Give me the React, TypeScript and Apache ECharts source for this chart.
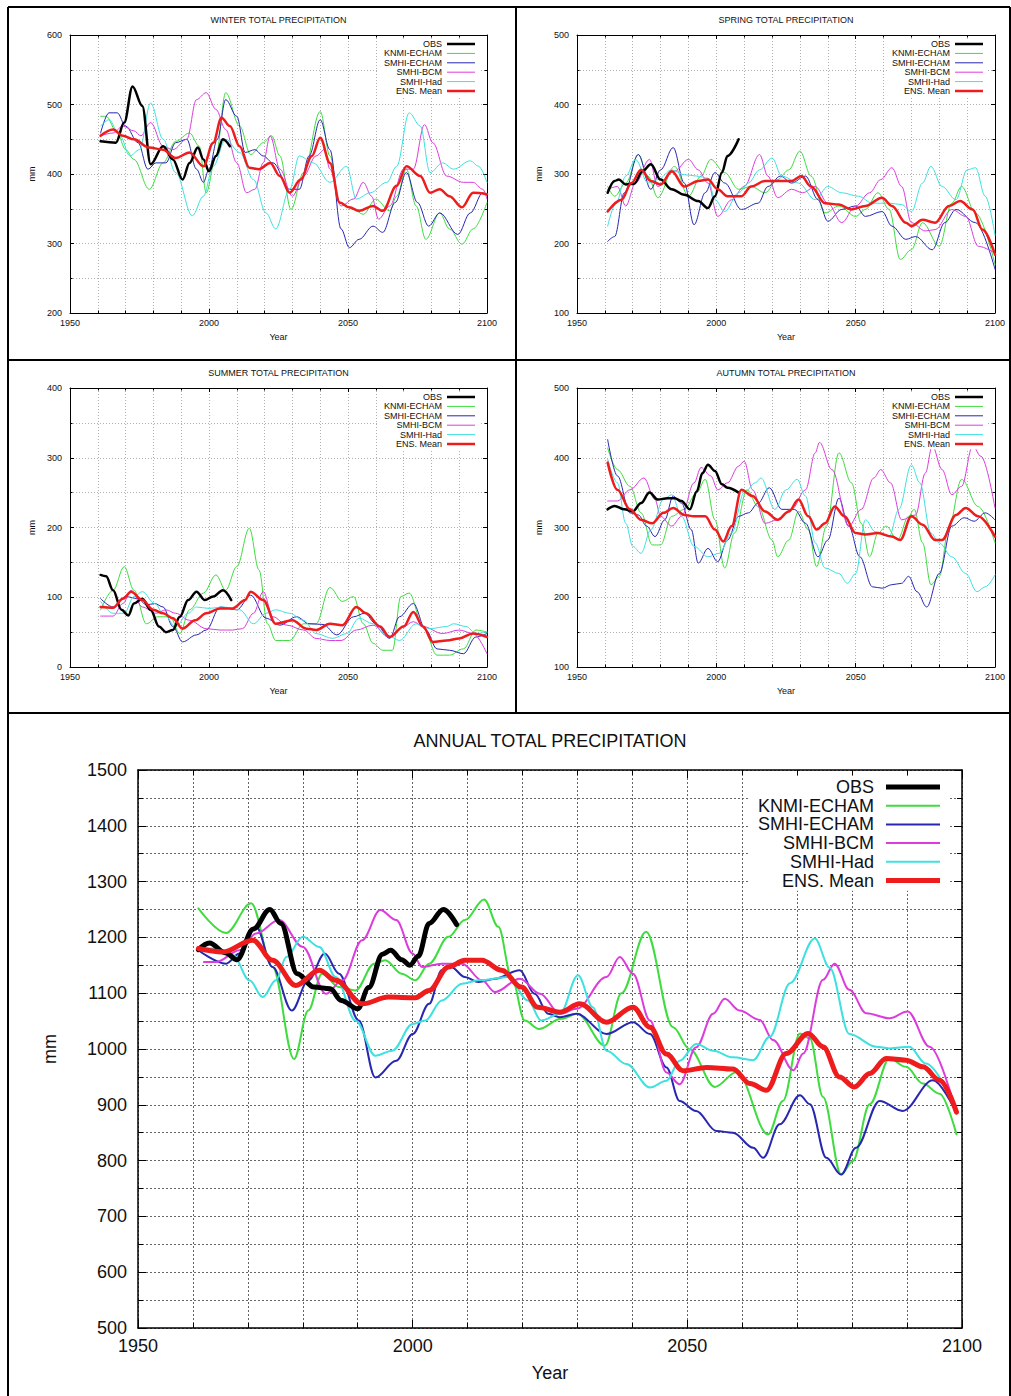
import React, { useEffect, useRef } from 'react';
import * as echarts from 'echarts';

const FONT = '"Liberation Sans", Arial, Helvetica, sans-serif';
const SERIES_NAMES = ['OBS', 'KNMI-ECHAM', 'SMHI-ECHAM', 'SMHI-BCM', 'SMHI-Had', 'ENS. Mean'];
const SERIES_COLORS = ['#000000', '#3fdc3f', '#2727b0', '#dc3cdc', '#3fe0e0', '#ee1c1c'];
const X_TICKS = [1950, 2000, 2050, 2100];

// ---------------- WINTER ----------------
const winterOBS = [[1961,447],[1966.5,445],[1969.5,474],[1972.5,526],[1976,498],[1979,414],[1983.5,440],[1987,421],[1990.5,392],[1993,416],[1996,438],[1998,421],[2000,404],[2002.5,426],[2005,450],[2007.5,440]];
const winterKNMI = [[1961,483],[1963,483],[1967,459],[1970,435],[1973,421],[1978.5,378],[1983.5,416],[1988,447],[1993,459],[1996.5,440],[1999,373],[2002.5,426],[2006,517],[2011,469],[2015,428],[2019.5,445],[2022.5,455],[2025.5,426],[2029.5,349],[2034,402],[2040,490],[2043.5,426],[2047,359],[2052,349],[2055.5,342],[2060,364],[2065,347],[2067.5,368],[2071,407],[2074.5,354],[2078,306],[2083,344],[2086.5,321],[2091,299],[2095,321],[2100,359]];
const winterSMHIE = [[1961,459],[1964,488],[1967,488],[1970,469],[1974.5,445],[1978,407],[1981,416],[1984.5,416],[1988,445],[1992,450],[1995.5,407],[1998,388],[2000,407],[2003,450],[2006,507],[2010,483],[2013,431],[2016.5,435],[2019.5,426],[2023,416],[2029,378],[2032.5,378],[2036,426],[2040,478],[2043.5,435],[2047.5,321],[2050.5,294],[2054,306],[2059,325],[2062.5,316],[2067,359],[2071,402],[2075,359],[2079,325],[2083,344],[2089.5,313],[2094,344],[2098.5,373],[2100,369]];
const winterBCM = [[1961,455],[1965.5,459],[1969,469],[1973,462],[1975.5,455],[1979,474],[1983.5,440],[1987,435],[1992,450],[1995.5,507],[1999,517],[2002.5,493],[2006,464],[2010,416],[2013.5,373],[2016.5,378],[2019.5,416],[2022,455],[2025.5,407],[2030,368],[2034,397],[2038.5,426],[2041.5,435],[2043.5,407],[2047.5,354],[2052,364],[2055.5,388],[2058.5,368],[2061,335],[2065,354],[2070,407],[2073.5,407],[2077.5,471],[2080.5,445],[2085.5,397],[2091.5,388],[2095,388],[2098.5,378],[2100,364]];
const winterHad = [[1961,469],[1964,478],[1968,455],[1971.5,426],[1975,435],[1979,502],[1983.5,450],[1988,402],[1994,340],[1998,368],[2001.5,411],[2006,450],[2011,431],[2016,392],[2020.5,344],[2024,321],[2029,378],[2032.5,426],[2037.5,416],[2043.5,388],[2049.5,411],[2053,364],[2058,373],[2064,388],[2067.5,411],[2072,488],[2076,469],[2079.5,402],[2084,416],[2088,407],[2094,419],[2097,411],[2100,388]];
const winterENS = [[1961,455],[1965.5,464],[1969,455],[1973,450],[1978.5,438],[1983.5,435],[1988,423],[1993,431],[1998,411],[2001.5,445],[2004.5,481],[2007.5,469],[2011,440],[2014.5,409],[2018,407],[2022,416],[2025.5,397],[2029,373],[2033,392],[2037,426],[2040,452],[2043.5,416],[2047,359],[2050.5,352],[2054,347],[2059,354],[2062.5,347],[2067.5,383],[2071,411],[2076,397],[2079.5,373],[2083,378],[2086.5,368],[2091,352],[2095,373],[2100,371]];

// ---------------- SPRING ----------------
const springOBS = [[1961,273],[1963.5,290],[1965,292],[1967.5,285],[1970.5,286],[1973.5,304],[1976.5,314],[1980,292],[1984,278],[1988.5,270],[1993.5,261],[1997,251],[1999.5,268],[2002,302],[2004,326],[2008,350]];
const springKNMI = [[1961,282],[1963.5,268],[1967.5,287],[1972,328],[1975.5,297],[1979,266],[1985,311],[1990,268],[1994.5,297],[1998,321],[2003,302],[2008,278],[2012.5,282],[2017.5,273],[2022,292],[2026,306],[2030,333],[2034,297],[2039,244],[2044,254],[2050,239],[2053.5,249],[2058,273],[2062,249],[2066,177],[2070,191],[2074,230],[2080,196],[2084.5,258],[2088,282],[2093,244],[2100,170]];
const springSMHIE = [[1961,203],[1963.5,210],[1967,273],[1972,328],[1976.5,278],[1980,306],[1984.5,338],[1988.5,287],[1992,227],[1996,273],[1999.5,302],[2003,287],[2009,249],[2015,258],[2018.5,282],[2023,297],[2027,287],[2032,297],[2036.5,263],[2040,232],[2045,249],[2050,254],[2053.5,239],[2059.5,246],[2063,225],[2068,206],[2071.5,210],[2077.5,191],[2082,230],[2086,249],[2093,230],[2100,163]];
const springBCM = [[1961,278],[1964.5,282],[1967.5,254],[1971,287],[1976,321],[1979,282],[1985,304],[1990,321],[1993.5,306],[1997,287],[2000.5,239],[2005.5,263],[2010,282],[2015.5,328],[2018.5,297],[2022,266],[2027,278],[2031,273],[2035.5,282],[2040,258],[2045,230],[2050,254],[2055,273],[2059,292],[2063,309],[2066.5,282],[2070,230],[2075,218],[2078.5,220],[2084.5,249],[2089.5,239],[2094,196],[2100,186]];
const springHad = [[1961,225],[1964,258],[1967.5,297],[1971,321],[1975.5,287],[1979,292],[1984,306],[1988.5,299],[1993,297],[1997,294],[1999.5,263],[2003,246],[2008,273],[2011.5,287],[2015.5,306],[2020,323],[2023.5,297],[2029.5,287],[2035.5,263],[2040,282],[2045,273],[2051,268],[2056,258],[2062,258],[2066.5,256],[2070,246],[2074,287],[2077,311],[2081,282],[2086,263],[2090,306],[2093,309],[2096.5,268],[2100,212]];
const springENS = [[1961,246],[1966,263],[1969.5,287],[1973,306],[1976.5,290],[1980,285],[1984,304],[1988.5,282],[1993.5,290],[1997,292],[2000.5,278],[2004,268],[2009,268],[2012.5,282],[2017.5,290],[2022,290],[2027,290],[2030.5,297],[2034,282],[2039,258],[2044,256],[2048.5,249],[2053.5,254],[2059.5,266],[2063,254],[2068,230],[2070,225],[2074,234],[2078.5,230],[2083.5,254],[2087.5,261],[2092,249],[2095.5,220],[2100,184]];

// ---------------- SUMMER ----------------
const summerOBS = [[1961,132],[1963,130],[1965.5,110],[1968.5,82],[1971,74],[1973,91],[1976,98],[1979,82],[1982,58],[1984.5,50],[1987,53],[1989.5,72],[1992.5,96],[1995.5,108],[1998.5,96],[2001.5,101],[2005,110],[2008,96]];
const summerKNMI = [[1961,82],[1965.5,110],[1969.5,144],[1973,110],[1977.5,62],[1981.5,72],[1986,72],[1989.5,48],[1993,82],[1998,106],[2002.5,132],[2006,110],[2010,144],[2014.5,199],[2018,139],[2021,62],[2024,38],[2029,38],[2034,62],[2038.5,62],[2043.5,114],[2048,94],[2052,101],[2055.5,62],[2059,34],[2062.5,24],[2066,24],[2069,101],[2072,106],[2077,58],[2082,17],[2086.5,17],[2091.5,26],[2096,53],[2100,50]];
const summerSMHIE = [[1961,98],[1965.5,86],[1970,101],[1974.5,98],[1977.5,89],[1980.5,91],[1983.5,86],[1987,58],[1990.5,36],[1995.5,46],[1999,53],[2004,86],[2010,82],[2015,103],[2020.5,70],[2025.5,60],[2031.5,72],[2036,62],[2041,61],[2046,46],[2052,72],[2056,77],[2060,62],[2065,41],[2068.5,72],[2073.5,91],[2078,53],[2082,26],[2086.5,24],[2091.5,19],[2096,43],[2100,48]];
const summerBCM = [[1961,73],[1965.5,73],[1969,91],[1972,110],[1976,86],[1981,77],[1984.5,82],[1988,77],[1993,67],[1999,55],[2004,53],[2008.5,53],[2012,55],[2016,77],[2019.5,108],[2023,72],[2028,60],[2034,53],[2038.5,41],[2043.5,38],[2047.5,38],[2053,53],[2059,60],[2064.5,43],[2070,58],[2073.5,65],[2077,58],[2084,48],[2090,53],[2095,48],[2100,19]];
const summerHad = [[1961,94],[1965.5,77],[1969.5,77],[1973,101],[1976,108],[1980.5,91],[1983.5,77],[1988,58],[1992.5,77],[1995.5,86],[2000,84],[2005,86],[2011,82],[2016,62],[2020.5,77],[2024,82],[2029,77],[2034,67],[2038.5,48],[2044.5,41],[2049.5,48],[2054,70],[2059,62],[2064,46],[2068.5,38],[2074.5,62],[2079.5,55],[2085.5,58],[2088,62],[2092.5,58],[2096,48],[2100,50]];
const summerENS = [[1961,86],[1965.5,85],[1969,98],[1972,108],[1976,96],[1980,82],[1983.5,77],[1987,70],[1990.5,55],[1995,67],[1999,77],[2004,84],[2008.5,84],[2013,96],[2015,108],[2019.5,96],[2024,62],[2030,67],[2035,55],[2038.5,53],[2043.5,62],[2048,60],[2053,86],[2056.5,77],[2061.5,58],[2065,43],[2070,58],[2073.5,79],[2077,58],[2080.5,36],[2085.5,38],[2090,41],[2095,48],[2100,43]];

// ---------------- AUTUMN ----------------
const autumnOBS = [[1961,326],[1963.5,331],[1967,326],[1970,323],[1973,335],[1976,350],[1979,340],[1982.5,342],[1985,342],[1987.5,338],[1990.5,326],[1993,352],[1995,378],[1997,390],[1999.5,381],[2002,362],[2004,357],[2008,350]];
const autumnKNMI = [[1961,414],[1964.5,383],[1969,359],[1973,321],[1977,275],[1980,275],[1984,316],[1988.5,326],[1993,350],[1996,369],[1999.5,311],[2003,242],[2006.5,292],[2011,354],[2015,330],[2020,282],[2022,258],[2026,282],[2029.5,323],[2033,297],[2036,244],[2039.5,302],[2044,407],[2048.5,364],[2052,306],[2055,258],[2058,292],[2061,302],[2065,282],[2069,316],[2071,326],[2074,278],[2077,218],[2080,230],[2083.5,302],[2088,369],[2094,330],[2100,278]];
const autumnSMHIE = [[1961,426],[1964.5,374],[1969,321],[1972,318],[1975,302],[1978,287],[1981.5,311],[1984.5,345],[1987.5,335],[1991,297],[1993.5,249],[1997,270],[2000.5,251],[2004,282],[2008,316],[2011.5,321],[2015,335],[2019,357],[2023.5,326],[2028,326],[2032,306],[2036.5,258],[2040,282],[2044,342],[2047.5,302],[2051.5,258],[2056,215],[2059.5,213],[2063,218],[2066.5,220],[2069,230],[2072,208],[2075.5,186],[2080,234],[2084.5,302],[2089,314],[2092.5,309],[2096.5,321],[2100,311]];
const autumnBCM = [[1961,338],[1964.5,338],[1969,354],[1974,371],[1978,340],[1980,316],[1984,302],[1987.5,316],[1992,364],[1994.5,386],[1998,374],[2000.5,354],[2004,364],[2008,388],[2010,395],[2013,354],[2017.5,306],[2022,311],[2027,326],[2032,354],[2035.5,407],[2037,422],[2041.5,383],[2047.5,302],[2052,326],[2056.5,371],[2059,383],[2062.5,364],[2066.5,311],[2071.5,318],[2075,378],[2077.5,417],[2081,383],[2084.5,347],[2088,359],[2092,417],[2095,402],[2100,328]];
const autumnHad = [[1961,398],[1964.5,364],[1967.5,306],[1970,273],[1973,263],[1976.5,297],[1981,340],[1984,347],[1987.5,316],[1992,273],[1997,258],[2001,263],[2005.5,292],[2010,350],[2014,364],[2016,371],[2021,326],[2025,354],[2029,369],[2032,345],[2035.5,278],[2039,242],[2044,234],[2047,220],[2050,234],[2053.5,311],[2057,294],[2062,287],[2065.5,326],[2070,390],[2073,364],[2077,292],[2080,278],[2084.5,258],[2089.5,234],[2093.5,208],[2096.5,215],[2100,232]];
const autumnENS = [[1961,393],[1964.5,354],[1969,326],[1973,311],[1977,306],[1981,321],[1984.5,328],[1988.5,318],[1992,316],[1996,316],[1999.5,297],[2002.5,280],[2005.5,302],[2009,354],[2013,345],[2017.5,323],[2022,311],[2026,323],[2029.5,340],[2033,316],[2036,297],[2039,306],[2042.5,330],[2046,316],[2050,292],[2053.5,290],[2058,292],[2063,287],[2066,282],[2070,316],[2074,304],[2078.5,282],[2081,282],[2086,318],[2089.5,328],[2094,316],[2100,287]];

// ---------------- ANNUAL ----------------
const annualOBS = [[1961,1178],[1963,1190],[1966,1172],[1968,1160],[1971,1215],[1974,1250],[1976,1225],[1979,1135],[1982,1111],[1985,1108],[1987,1087],[1990,1072],[1992,1110],[1994.5,1170],[1996,1177],[1998,1160],[1999.5,1150],[2001,1166],[2003,1225],[2005.6,1250],[2008,1223]];
const annualKNMI = [[1961,1252],[1966,1208],[1970.6,1261],[1974.5,1147],[1978.4,982],[1981,1069],[1983.5,1135],[1986.6,1111],[1989.6,1105],[1993,1153],[1995,1159],[1998,1135],[2000.5,1123],[2003,1153],[2006.5,1201],[2009.5,1231],[2013,1268],[2015.6,1219],[2018,1129],[2020.4,1051],[2023,1036],[2027,1054],[2030,1063],[2035,1006],[2038,1100],[2042.5,1210],[2047.4,1039],[2050.4,1000],[2055,932],[2059,959],[2064.7,847],[2067.4,907],[2070.5,1028],[2072.3,1019],[2074.7,914],[2078,775],[2080.1,799],[2083.2,901],[2086.8,983],[2089.8,968],[2092.9,938],[2095.9,920],[2099,847]];
const annualSMHIE = [[1961,1177],[1966,1153],[1968.5,1171],[1971.5,1219],[1974.5,1147],[1978,1069],[1981,1123],[1984,1171],[1986.6,1135],[1990.2,1051],[1993.2,949],[1997,979],[2000,1027],[2003,1081],[2005.3,1141],[2007,1147],[2009.5,1129],[2012,1120],[2015,1126],[2019.5,1141],[2022.2,1099],[2024.7,1063],[2026.8,1057],[2029.8,1063],[2035.3,1027],[2040.1,1048],[2043.2,1027],[2046.2,967],[2048.6,907],[2051.6,889],[2055.3,853],[2058.3,850],[2062,823],[2063.8,805],[2066.8,865],[2070.5,917],[2072.3,901],[2075.3,805],[2078,775],[2080.7,823],[2085,907],[2089.2,889],[2094.7,944],[2098.5,895]];
const annualBCM = [[1962,1156],[1964.2,1156],[1968.5,1177],[1971.5,1207],[1975.7,1231],[1980,1183],[1984.2,1099],[1987.2,1123],[1990.8,1195],[1994.1,1249],[1997,1231],[2000,1171],[2001.7,1147],[2005.3,1153],[2009,1153],[2012.6,1123],[2015,1102],[2019.5,1126],[2023.2,1099],[2026.8,1063],[2029.8,1072],[2035.3,1129],[2037.7,1165],[2040.1,1135],[2043.2,1051],[2046.2,958],[2048.6,937],[2051.6,1003],[2054.7,1063],[2056.8,1090],[2059.5,1069],[2063.2,1052],[2065.6,1016],[2069.3,962],[2071.1,992],[2074.7,1124],[2076.8,1153],[2079.5,1106],[2082.6,1064],[2086.8,1055],[2090.1,1067],[2094.1,1004],[2098.5,902]];
const annualHad = [[1961,1183],[1963.6,1180],[1967.3,1168],[1970.3,1123],[1972.7,1093],[1975.1,1123],[1977,1165],[1980,1201],[1983,1183],[1986,1129],[1989.6,1051],[1993.2,988],[1996.3,997],[2000,1045],[2002.3,1051],[2005.3,1087],[2009,1117],[2012,1123],[2017.4,1129],[2021,1087],[2023.4,1051],[2026.8,1063],[2030.1,1132],[2032.8,1075],[2035.3,997],[2038.9,973],[2043.2,931],[2046.2,943],[2048.6,979],[2051.6,1009],[2054.7,997],[2058.3,985],[2062,980],[2065,1022],[2068.7,1118],[2073.2,1198],[2075.9,1146],[2079.5,1027],[2084.4,1004],[2086.8,1001],[2090.4,1004],[2093.4,974],[2098.5,902]];
const annualENS = [[1961,1180],[1965.4,1174],[1970.9,1195],[1974.5,1159],[1978.7,1114],[1983,1141],[1986,1123],[1990.8,1081],[1995.6,1093],[2000.5,1092],[2003,1105],[2006.5,1147],[2009.5,1159],[2012.6,1159],[2016.2,1141],[2019.8,1111],[2022.8,1075],[2026.8,1066],[2030.4,1081],[2035.3,1048],[2040.1,1075],[2043.2,1039],[2046.2,991],[2049.2,961],[2053.5,967],[2058.3,964],[2061.4,938],[2064.4,926],[2068,992],[2072,1028],[2074.7,1004],[2077.7,950],[2080.4,932],[2083.2,956],[2086.2,983],[2089.8,980],[2092.9,968],[2095.9,944],[2099,887]];

const PANELS = [
  { title: 'WINTER TOTAL PRECIPITATION', yMin: 200, yMax: 600, big: false, left: 70, top: 35, width: 417, height: 278,
    data: [winterOBS, winterKNMI, winterSMHIE, winterBCM, winterHad, winterENS] },
  { title: 'SPRING TOTAL PRECIPITATION', yMin: 100, yMax: 500, big: false, left: 577, top: 35, width: 418, height: 278,
    data: [springOBS, springKNMI, springSMHIE, springBCM, springHad, springENS] },
  { title: 'SUMMER TOTAL PRECIPITATION', yMin: 0, yMax: 400, big: false, left: 70, top: 388, width: 417, height: 279,
    data: [summerOBS, summerKNMI, summerSMHIE, summerBCM, summerHad, summerENS] },
  { title: 'AUTUMN TOTAL PRECIPITATION', yMin: 100, yMax: 500, big: false, left: 577, top: 388, width: 418, height: 279,
    data: [autumnOBS, autumnKNMI, autumnSMHIE, autumnBCM, autumnHad, autumnENS] },
  { title: 'ANNUAL TOTAL PRECIPITATION', yMin: 500, yMax: 1500, big: true, left: 138, top: 770, width: 824, height: 558,
    data: [annualOBS, annualKNMI, annualSMHIE, annualBCM, annualHad, annualENS] },
];

function buildOption() {
  const grid: any[] = [];
  const xAxis: any[] = [];
  const yAxis: any[] = [];
  const series: any[] = [];
  const graphic: any[] = [];

  PANELS.forEach((p, i) => {
    const fs = p.big ? 18 : 9;
    const text = { fontSize: fs, fontFamily: FONT, color: '#111' };
    const gridLine = {
      show: true,
      lineStyle: { color: p.big ? '#666' : '#b0b0b0', type: p.big ? [2, 2] : [1, 2], width: 1 },
    };
    const axisLine = { show: true, onZero: false, lineStyle: { color: '#000', width: p.big ? 1.5 : 1 } };
    const tick = { show: true, inside: true, length: p.big ? 8 : 4, lineStyle: { color: '#000', width: 1 } };
    grid.push({ left: p.left, top: p.top, width: p.width, height: p.height, containLabel: false });

    const xBase = {
      type: 'value', gridIndex: i, min: 1950, max: 2100, interval: 50,
      axisLine, axisTick: tick,
      minorTick: { show: true, splitNumber: 5, length: p.big ? 5 : 2.5, lineStyle: { color: '#000' } },
    };
    xAxis.push({
      ...xBase, position: 'bottom',
      splitLine: gridLine, minorSplitLine: gridLine,
      axisLabel: { ...text, margin: p.big ? 9 : 5, formatter: (v: number) => (X_TICKS.includes(v) ? String(v) : '') },
      name: 'Year', nameLocation: 'middle', nameGap: p.big ? 36 : 19, nameTextStyle: text,
    });
    xAxis.push({ ...xBase, position: 'top', splitLine: { show: false }, minorSplitLine: { show: false }, axisLabel: { show: false } });

    const yBase = {
      type: 'value', gridIndex: i, min: p.yMin, max: p.yMax, interval: 100,
      axisLine, axisTick: tick,
      minorTick: { show: true, splitNumber: 2, length: p.big ? 5 : 2.5, lineStyle: { color: '#000' } },
    };
    yAxis.push({
      ...yBase, position: 'left',
      splitLine: gridLine, minorSplitLine: gridLine,
      axisLabel: { ...text, margin: p.big ? 11 : 8, formatter: (v: number) => String(v) },
      name: 'mm', nameLocation: 'middle', nameRotate: 90, nameGap: p.big ? 79 : 34, nameTextStyle: text,
    });
    yAxis.push({ ...yBase, position: 'right', splitLine: { show: false }, minorSplitLine: { show: false }, axisLabel: { show: false } });

    const order = [1, 2, 3, 4, 0, 5];
    order.forEach((k) => {
      const thick = k === 0 || k === 5;
      series.push({
        type: 'line',
        name: SERIES_NAMES[k],
        xAxisIndex: i * 2,
        yAxisIndex: i * 2,
        data: p.data[k],
        showSymbol: false,
        symbol: 'none',
        smooth: 0.35,
        smoothMonotone: 'x',
        z: thick ? (k === 5 ? 5 : 4) : 3,
        lineStyle: {
          color: SERIES_COLORS[k],
          width: p.big ? (thick ? 5 : 2) : thick ? 2.5 : 1,
          cap: 'round', join: 'round',
        },
        silent: true,
      });
    });

    // title
    graphic.push({
      type: 'text', x: p.left + p.width / 2, y: p.top - (p.big ? 29 : 15),
      style: { text: p.title, align: 'center', verticalAlign: 'middle', fontSize: fs, fontFamily: FONT, fill: '#111' },
    });
    // legend (key box with white background, as in the original)
    const right = p.left + p.width;
    const textRight = right - (p.big ? 88 : 45);
    const lx1 = right - (p.big ? 76 : 40);
    const lx2 = right - (p.big ? 22 : 12);
    const y0 = p.top + (p.big ? 17 : 9);
    const dy = p.big ? 18.7 : 9.4;
    const boxLeft = right - (p.big ? 212 : 108);
    const boxRight = right - (p.big ? 13 : 8);
    const boxTop = y0 - dy * 0.55;
    const boxBottom = y0 + dy * 5.55;
    graphic.push({
      type: 'rect',
      shape: { x: boxLeft, y: boxTop, width: boxRight - boxLeft, height: boxBottom - boxTop },
      style: { fill: '#ffffff', stroke: 'none' },
      z: 9,
    });
    SERIES_NAMES.forEach((nm, k) => {
      const thick = k === 0 || k === 5;
      const yy = y0 + k * dy;
      graphic.push({
        type: 'text', x: textRight, y: yy,
        style: { text: nm, align: 'right', verticalAlign: 'middle', fontSize: fs, fontFamily: FONT, fill: '#111' },
        z: 10,
      });
      graphic.push({
        type: 'line', shape: { x1: lx1, y1: yy, x2: lx2, y2: yy },
        style: { stroke: SERIES_COLORS[k], lineWidth: p.big ? (thick ? 5 : 2) : thick ? 2.5 : 1 },
        z: 10,
      });
    });
  });

  // table borders
  const borders = [
    [8, 7, 1010, 7],
    [8, 7, 8, 1396],
    [1010, 7, 1010, 1396],
    [516, 7, 516, 713],
    [8, 360, 1010, 360],
    [8, 713, 1010, 713],
  ];
  borders.forEach((b) => {
    graphic.push({
      type: 'line', shape: { x1: b[0], y1: b[1], x2: b[2], y2: b[3] },
      style: { stroke: '#000', lineWidth: 2 }, z: 20,
    });
  });

  return {
    animation: false,
    backgroundColor: '#ffffff',
    textStyle: { fontFamily: FONT },
    grid, xAxis, yAxis, series, graphic,
  };
}

export default function App() {
  const ref = useRef<HTMLDivElement>(null);
  useEffect(() => {
    if (!ref.current) return;
    const chart = echarts.init(ref.current, null, { renderer: 'svg' });
    chart.setOption(buildOption() as any);
    return () => chart.dispose();
  }, []);
  return (
    <div
      ref={ref}
      style={{ position: 'absolute', left: 0, top: 0, width: 1011, height: 1396, background: '#fff' }}
    />
  );
}
